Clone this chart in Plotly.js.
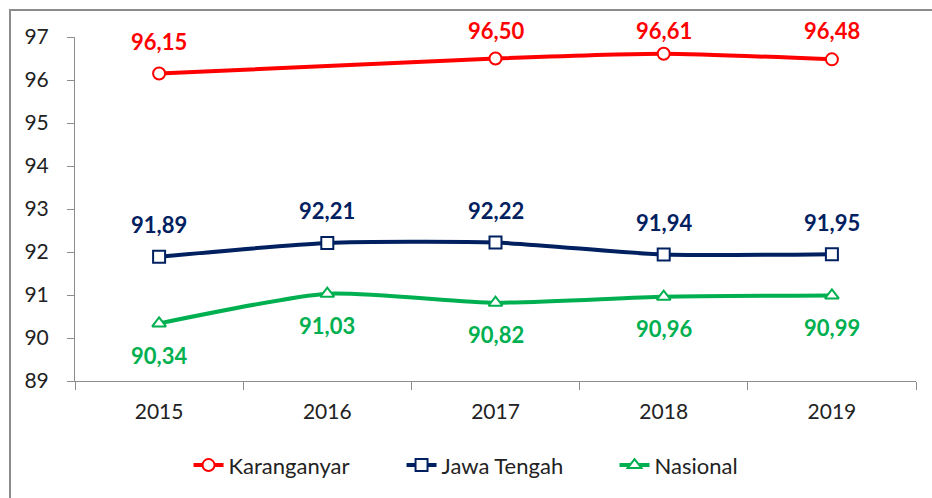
<!DOCTYPE html>
<html>
<head>
<meta charset="utf-8">
<script src="https://cdn.plot.ly/plotly-3.0.1.min.js"></script>
<style>
html,body{margin:0;padding:0;background:#fff;}
#wrap{position:relative;width:932px;height:498px;overflow:hidden;}
#chart{width:932px;height:498px;}
#frame{position:absolute;left:9px;top:9px;width:940px;height:510px;border-left:2px solid #8c8c8c;border-top:2px solid #8c8c8c;pointer-events:none;}
</style>
</head>
<body>
<div id="wrap"><div id="chart"></div><div id="frame"></div></div>
<script>
const years = ['2015', '2016', '2017', '2018', '2019'];
const karanganyar = [96.15, null, 96.50, 96.61, 96.48];
const jawaTengah = [91.89, 92.21, 92.22, 91.94, 91.95];
const nasional = [90.34, 91.03, 90.82, 90.96, 90.99];
const yTicks = [89, 90, 91, 92, 93, 94, 95, 96, 97];

const font = 'Lato, "Open Sans", sans-serif';
const colors = {k: '#ff0000', j: '#002060', n: '#00b050'};
// labels above the top series are kept inside the chart area (as in the original)
const labelCeiling = 96.40;

function series(name, y, color, symbol) {
  return {
    type: 'scatter', mode: 'lines+markers', name: name,
    x: years, y: y, connectgaps: true,
    line: {color: color, width: 4, shape: 'spline', smoothing: 0.6},
    marker: {symbol: symbol, size: 12, color: '#ffffff', line: {color: color, width: 2}},
    cliponaxis: false
  };
}

const data = [
  series('Karanganyar', karanganyar, colors.k, 'circle'),
  series('Jawa Tengah', jawaTengah, colors.j, 'square'),
  series('Nasional', nasional, colors.n, 'triangle-up')
];

function labels(y, color, shift) {
  const out = [];
  y.forEach((v, i) => {
    if (v === null) return;
    out.push({
      x: i, y: Math.min(v, labelCeiling), xref: 'x', yref: 'y', yshift: shift, showarrow: false,
      text: v.toFixed(2).replace('.', ','),
      font: {family: font, size: 22, color: color, weight: 'bold'}
    });
  });
  return out;
}

const annotations = [].concat(
  labels(karanganyar, colors.k, 32),
  labels(jawaTengah, colors.j, 32),
  labels(nasional, colors.n, -32)
);

const layout = {
  width: 932, height: 498,
  margin: {l: 75, r: 16, t: 37, b: 117},
  paper_bgcolor: '#ffffff', plot_bgcolor: '#ffffff',
  showlegend: true,
  annotations: annotations,
  legend: {orientation: 'h', x: 0.135, xanchor: 'left', y: -0.245, yanchor: 'middle',
           font: {family: font, size: 22, color: '#222'}, entrywidth: 168, entrywidthmode: 'pixels'},
  xaxis: {
    type: 'category', showgrid: false, zeroline: false,
    showline: true, linecolor: '#8c8c8c', linewidth: 1,
    ticks: 'outside', tickson: 'boundaries', ticklen: 8, tickcolor: '#8c8c8c',
    tickfont: {family: font, size: 21, color: '#222'},
    ticklabelstandoff: 12, range: [-0.5, 4.5]
  },
  yaxis: {
    range: [89, 97], tickvals: yTicks, showgrid: false, zeroline: false,
    showline: true, linecolor: '#8c8c8c', linewidth: 1,
    ticks: 'outside', ticklen: 7, tickcolor: '#8c8c8c',
    tickfont: {family: font, size: 21, color: '#222'},
    ticklabelstandoff: 14
  }
};

Plotly.newPlot('chart', data, layout, {displayModeBar: false, staticPlot: true});
</script>
</body>
</html>
